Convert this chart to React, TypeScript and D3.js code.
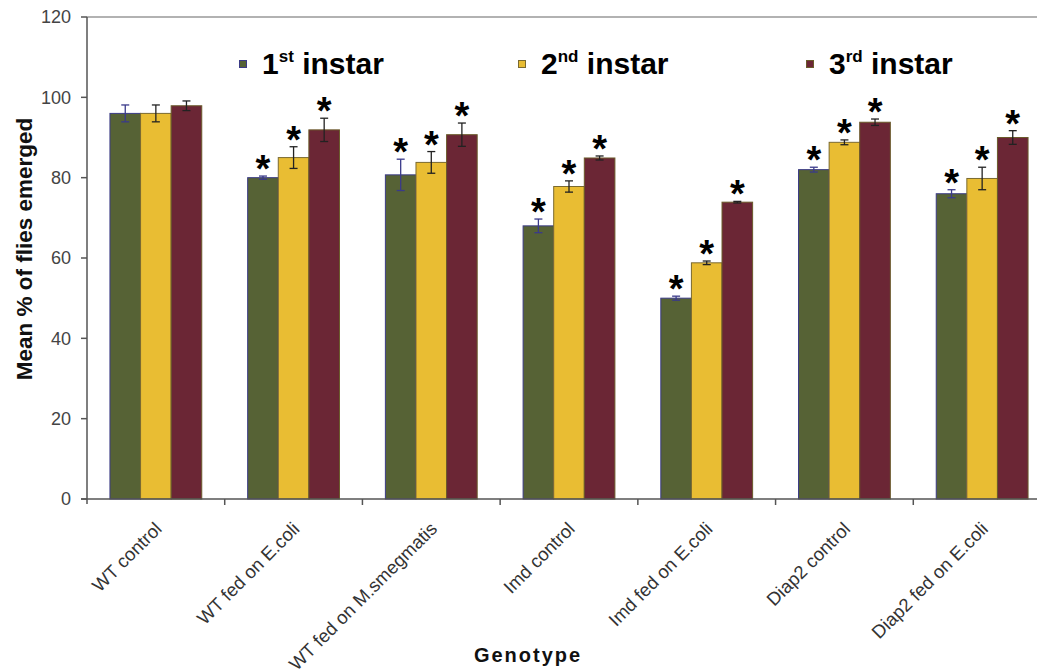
import * as d3 from 'd3';
import { useEffect, useRef } from 'react';

const categories = [
	'WT control',
	'WT fed on E.coli',
	'WT fed on M.smegmatis',
	'Imd control',
	'Imd fed on E.coli',
	'Diap2 control',
	'Diap2 fed on E.coli',
];
const seriesNames = ['1st instar', '2nd instar', '3rd instar'];
const firstInstar = [96, 80, 80.7, 68, 50, 82, 76];
const secondInstar = [96, 85, 83.8, 77.8, 58.8, 88.8, 79.8];
const thirdInstar = [97.9, 91.9, 90.7, 84.9, 73.9, 93.8, 90];
const firstErr = [2.1, 0.4, 3.9, 1.7, 0.5, 0.6, 1];
const secondErr = [2.1, 2.7, 2.7, 1.4, 0.45, 0.6, 2.8];
const thirdErr = [1.2, 2.9, 2.9, 0.5, 0.2, 0.8, 1.7];
const significant = [false, true, true, true, true, true, true];
const yTicks = [0, 20, 40, 60, 80, 100, 120];

const W = 1037;
const H = 671;

export default function App() {
	const ref = useRef<SVGSVGElement>(null);

	useEffect(() => {
		const svg = d3.select(ref.current);
		svg.selectAll('*').remove();

		const font = 'Liberation Sans, Arial, sans-serif';
		const margin = { left: 87, top: 17, right: -14, bottom: 172 };
		const x0 = d3
			.scaleBand()
			.domain(categories)
			.range([margin.left, W - margin.right]);
		const x1 = d3
			.scaleBand()
			.domain(seriesNames)
			.range([0, x0.bandwidth()])
			.paddingOuter(0.75);
		const y = d3
			.scaleLinear()
			.domain([0, 120])
			.range([H - margin.bottom, margin.top]);

		const fills = ['#566235', '#E9BD33', '#6B2635'];
		const strokes = ['#3b3b86', '#7a6a30', '#6a5a2a'];
		const errColors = ['#3a3a8a', '#222', '#222'];
		const values = [firstInstar, secondInstar, thirdInstar];
		const errs = [firstErr, secondErr, thirdErr];

		const rows = categories.flatMap((c, i) =>
			seriesNames.map((s, j) => ({ c, s, j, v: values[j][i], e: errs[j][i], sig: significant[i] })),
		);

		// верхняя рамка
		svg
			.append('line')
			.attr('x1', margin.left)
			.attr('x2', W)
			.attr('y1', y(120))
			.attr('y2', y(120))
			.attr('stroke', '#999')
			.attr('stroke-width', 1.5);

		// столбцы
		svg
			.append('g')
			.selectAll('rect')
			.data(rows)
			.enter()
			.append('rect')
			.attr('x', (d) => x0(d.c)! + x1(d.s)!)
			.attr('width', x1.bandwidth())
			.attr('y', (d) => y(d.v))
			.attr('height', (d) => y(0) - y(d.v))
			.attr('fill', (d) => fills[d.j])
			.attr('stroke', (d) => strokes[d.j])
			.attr('stroke-width', 1);

		// планки погрешностей и звёздочки
		const eg = svg.append('g');
		rows.forEach((d) => {
			const cx = x0(d.c)! + x1(d.s)! + x1.bandwidth() / 2;
			const col = errColors[d.j];
			eg.append('line')
				.attr('x1', cx)
				.attr('x2', cx)
				.attr('y1', y(d.v + d.e))
				.attr('y2', y(d.v - d.e))
				.attr('stroke', col)
				.attr('stroke-width', 1.3);
			[d.v + d.e, d.v - d.e].forEach((v) => {
				eg.append('line')
					.attr('x1', cx - 4)
					.attr('x2', cx + 4)
					.attr('y1', y(v))
					.attr('y2', y(v))
					.attr('stroke', col)
					.attr('stroke-width', 1.3);
			});
			if (d.sig) {
				eg.append('text')
					.attr('x', cx)
					.attr('y', y(d.v + d.e) + 6)
					.attr('text-anchor', 'middle')
					.attr('font-family', font)
					.attr('font-weight', 'bold')
					.attr('font-size', 38)
					.attr('fill', '#000')
					.text('*');
			}
		});

		// оси
		const axisColor = '#555';
		svg
			.append('line')
			.attr('x1', margin.left)
			.attr('x2', margin.left)
			.attr('y1', y(120))
			.attr('y2', y(0) + 5)
			.attr('stroke', axisColor)
			.attr('stroke-width', 1.5);
		svg
			.append('line')
			.attr('x1', margin.left - 6)
			.attr('x2', W)
			.attr('y1', y(0))
			.attr('y2', y(0))
			.attr('stroke', axisColor)
			.attr('stroke-width', 1.5);

		const yg = svg.append('g');
		yTicks.forEach((t) => {
			yg.append('line')
				.attr('x1', margin.left - 6)
				.attr('x2', margin.left)
				.attr('y1', y(t))
				.attr('y2', y(t))
				.attr('stroke', axisColor)
				.attr('stroke-width', 1.5);
			yg.append('text')
				.attr('x', margin.left - 16)
				.attr('y', y(t))
				.attr('dy', '0.35em')
				.attr('text-anchor', 'end')
				.attr('font-family', font)
				.attr('font-size', 18)
				.attr('fill', '#444')
				.text(t);
		});

		const xg = svg.append('g');
		categories.forEach((c, i) => {
			const bx = x0(c)! + x0.bandwidth();
			if (i < categories.length - 1) {
				xg.append('line')
					.attr('x1', bx)
					.attr('x2', bx)
					.attr('y1', y(0))
					.attr('y2', y(0) + 6)
					.attr('stroke', axisColor)
					.attr('stroke-width', 1.5);
			}
			const cx = x0(c)! + x0.bandwidth() / 2 + 7;
			xg.append('text')
				.attr('transform', `translate(${cx}, ${y(0) + 31}) rotate(-45)`)
				.attr('text-anchor', 'end')
				.attr('font-family', font)
				.attr('font-size', 18.5)
				.attr('fill', '#333')
				.text(c);
		});

		// подписи осей
		svg
			.append('text')
			.attr('transform', `translate(32, 249) rotate(-90)`)
			.attr('text-anchor', 'middle')
			.attr('font-family', font)
			.attr('font-weight', 'bold')
			.attr('font-size', 22.5)
			.attr('fill', '#111')
			.text('Mean % of flies emerged');
		svg
			.append('text')
			.attr('x', 528)
			.attr('y', 662)
			.attr('text-anchor', 'middle')
			.attr('font-family', font)
			.attr('font-weight', 'bold')
			.attr('font-size', 20)
			.attr('letter-spacing', 2)
			.attr('fill', '#111')
			.text('Genotype');

		// легенда
		const legendX = [243, 522, 810];
		const sups = ['st', 'nd', 'rd'];
		seriesNames.forEach((s, j) => {
			const lg = svg.append('g').attr('transform', `translate(${legendX[j]}, 64)`);
			lg.append('rect')
				.attr('x', -3.5)
				.attr('y', -3.5)
				.attr('width', 7)
				.attr('height', 7)
				.attr('fill', fills[j])
				.attr('stroke', strokes[j])
				.attr('stroke-width', 1);
			const t = lg
				.append('text')
				.attr('x', 19)
				.attr('y', 10)
				.attr('font-family', font)
				.attr('font-weight', 'bold')
				.attr('font-size', 30)
				.attr('fill', '#000');
			t.append('tspan').text(s.charAt(0));
			t.append('tspan').attr('font-size', 17).attr('dy', -12).text(sups[j]);
			t.append('tspan').attr('dy', 12).text(' instar');
		});
	}, []);

	return (
		<svg
			ref={ref}
			width={W}
			height={H}
			style={{ position: 'absolute', left: 0, top: 0, background: '#fff' }}
		></svg>
	);
}
